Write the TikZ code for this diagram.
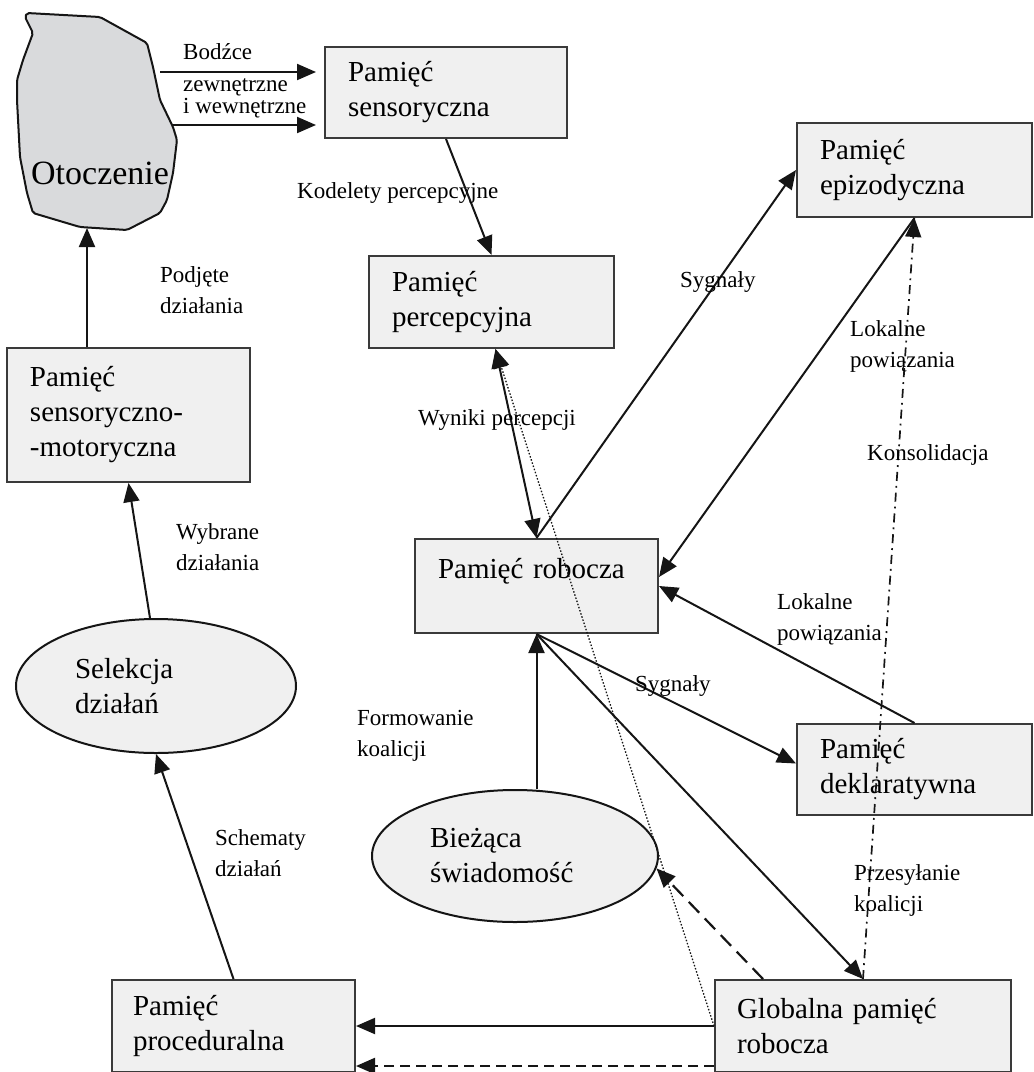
\documentclass[tikz,border=0pt]{standalone}
\usepackage{fontspec}
\setmainfont{Liberation Serif}
\usetikzlibrary{arrows.meta,shapes.geometric}
\definecolor{boxfill}{HTML}{F0F0F0}
\definecolor{boxline}{HTML}{3A3A3A}
\definecolor{envfill}{HTML}{D9DADC}
\definecolor{ink}{HTML}{151515}
\newcommand\bxfont{\fontsize{29}{35}\selectfont}
\newcommand\lbfont{\fontsize{23}{31}\selectfont}
\newcommand\otofont{\fontsize{34}{40}\selectfont}
\begin{document}
\begin{tikzpicture}[x=1pt,y=-1pt,
  box/.style={draw=boxline, line width=2pt, fill=boxfill, rectangle, inner sep=0pt, align=left, font=\bxfont},
  oval/.style={draw=ink, line width=2pt, fill=boxfill, ellipse, inner sep=0pt, align=left, font=\bxfont},
  lbl/.style={inner sep=0pt, align=left, anchor=west, font=\lbfont},
  arr/.style={draw=ink, line width=2pt, -{Triangle[length=19pt,width=16pt]}},
  arrboth/.style={draw=ink, line width=2pt, {Triangle[length=19pt,width=16pt]}-{Triangle[length=19pt,width=16pt]}},
  dsh/.style={dash pattern=on 15pt off 8pt, line width=2.2pt},
  dshshort/.style={dash pattern=on 10pt off 6pt, line width=2.2pt},
  dtt/.style={dash pattern=on 1.5pt off 1.8pt, line width=1.3pt},
  dshdot/.style={dash pattern=on 9pt off 5pt on 1.8pt off 5pt, line width=1.7pt}
]
\useasboundingbox (0,0) rectangle (1034,1072);

% environment blob
\draw[draw=ink, line width=2pt, fill=envfill, rounded corners=2pt]
  (27,13) -- (100,17) -- (147,43) -- (153,67) -- (160,100) -- (173,127) -- (177,140)
  -- (173,173) -- (167,200) -- (160,213) -- (127,230) -- (80,227) -- (33,213)
  -- (27,193) -- (20,157) -- (17,100) -- (17,80) -- (23,60) -- (33,33) -- (25,17) -- cycle;
\node[inner sep=0pt, anchor=west, font=\otofont] (oto) at (31,173) {Otoczenie};
\coordinate (env-r1) at (160,72);
\coordinate (env-r2) at (173,125);
\coordinate (env-b) at (87,228);

% boxes
\node[box, minimum width=242pt, minimum height=91pt, text width=196pt] (sens) at (446,92.5) {Pamięć\\sensoryczna};
\node[box, minimum width=245pt, minimum height=92pt, text width=199pt] (perc) at (491.5,302) {Pamięć\\percepcyjna};
\node[box, minimum width=235pt, minimum height=94pt, text width=189pt] (epi) at (914.5,170) {Pamięć\\epizodyczna};
\node[box, minimum width=243pt, minimum height=134pt, text width=197pt] (senmot) at (128.5,415) {Pamięć\\sensoryczno-\\-motoryczna};
\node[box, minimum width=243pt, minimum height=94pt, text width=197pt] (rob) at (536.5,586) {Pamięć robocza\\\phantom{P}};
\node[box, minimum width=235pt, minimum height=91pt, text width=189pt] (dekl) at (914.5,769.5) {Pamięć\\deklaratywna};
\node[box, minimum width=296pt, minimum height=92pt, text width=252pt] (glob) at (863,1026) {Globalna pamięć\\robocza};
\node[box, minimum width=243pt, minimum height=92pt, text width=201pt] (proc) at (233.5,1026) {Pamięć\\proceduralna};

% ellipses
\node[oval, minimum width=280pt, minimum height=134pt, text width=162pt] (sel) at (156,686) {Selekcja\\działań};
\node[oval, minimum width=286pt, minimum height=132pt, text width=170pt] (biez) at (515,856) {Bieżąca\\świadomość};

% connectors
\draw[arr, shorten >=8pt] (env-r1) -- (env-r1 -| sens.west);
\draw[arr, shorten >=8pt] (env-r2) -- (env-r2 -| sens.west);
\draw[arr] (sens.south) -- (perc.north);
\draw[arrboth] ([xshift=4pt]perc.south) -- (rob.north);
\draw[arr] (rob.north) -- (epi.west);
\draw[arr] (epi.south) -- ([yshift=9pt]rob.east);
\draw[arr] (dekl.north) -- (rob.east);
\draw[arr] (rob.south) -- ([yshift=6pt]dekl.west);
\draw[arr] (rob.south) -- (glob.north);
\draw[arr, dshdot] (glob.north) -- (epi.south);
\draw[arr] (biez.north -| rob.south) -- (rob.south);
\draw[arr, dsh] ([xshift=-100pt]glob.north) -- (biez.-5);
\draw[arr, dtt] (glob.west) -- ([xshift=4pt]perc.south);
\draw[arr] (glob.west) -- (proc.east);
\draw[arr, dshshort] ([yshift=-40pt]glob.west) -- ([yshift=-40pt]proc.east);
\draw[arr] (proc.north) -- (sel.south);
\draw[arr] ([xshift=-6pt]sel.north) -- (senmot.south);
\draw[arr] ([xshift=-41.5pt]senmot.north) -- (env-b);

% labels
\node[lbl, font=\fontsize{23}{22}\selectfont] (l-bodzce) at (183,81) {Bodźce\\[10pt]zewnętrzne\\i wewnętrzne};
\node[lbl] (l-kodelety) at (297,193) {Kodelety percepcyjne};
\node[lbl] (l-podjete) at (160,290) {Podjęte\\działania};
\node[lbl] (l-syg1) at (680,282) {Sygnały};
\node[lbl] (l-wyniki) at (418,420) {Wyniki percepcji};
\node[lbl] (l-lok1) at (850,346) {Lokalne\\powiązania};
\node[lbl] (l-kons) at (867,455) {Konsolidacja};
\node[lbl] (l-wybrane) at (176,547) {Wybrane\\działania};
\node[lbl] (l-lok2) at (777,619) {Lokalne\\powiązania};
\node[lbl] (l-syg2) at (635,686) {Sygnały};
\node[lbl] (l-form) at (357,736) {Formowanie\\koalicji};
\node[lbl] (l-schem) at (215,853) {Schematy\\działań};
\node[lbl] (l-przes) at (854,890) {Przesyłanie\\koalicji};
\end{tikzpicture}
\end{document}
